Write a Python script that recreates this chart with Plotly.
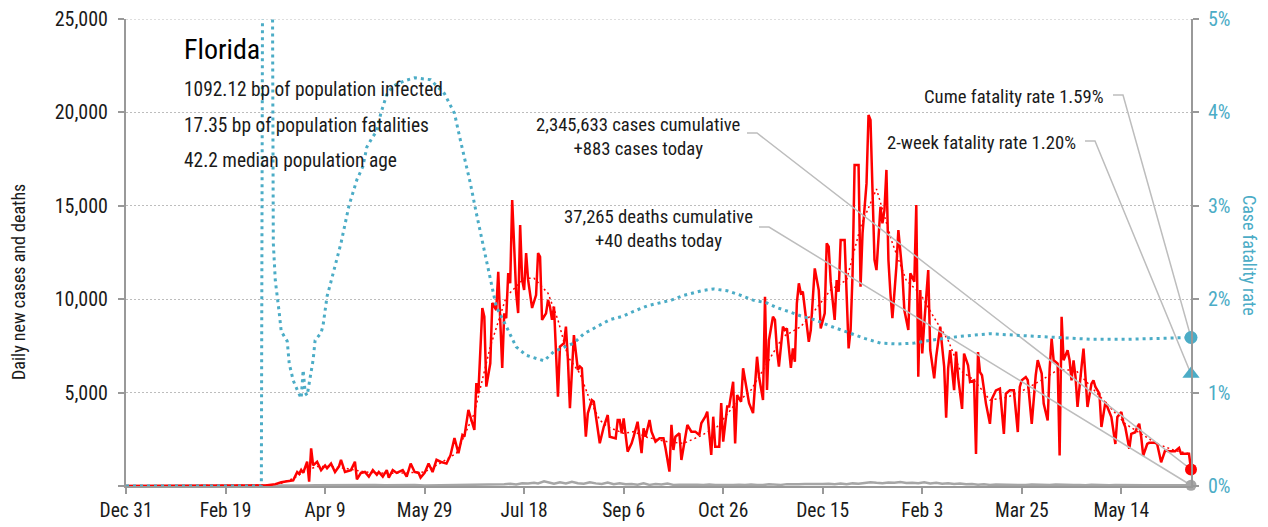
import plotly.graph_objects as go
import pandas as pd

# ---------------- data ----------------
START = pd.Timestamp("2019-12-31")

# (days after Dec 31 2019, daily new cases)
case_points = [
    (0, 0), (60, 0), (66, 5), (70, 30), (75, 100), (78, 200), (81, 250), (84, 300), (86, 750), (87, 650),
    (88, 860), (89, 700), (91, 1300), (92, 230), (93, 2020), (94, 1100), (96, 1300), (98, 850), (100, 1100),
    (101, 950), (103, 1200), (105, 750), (107, 1050), (108, 1400), (110, 750), (113, 850), (115, 1300),
    (116, 350), (118, 700), (120, 750), (122, 500), (124, 850), (126, 600), (127, 750), (129, 500), (131, 850),
    (132, 450), (134, 850), (136, 700), (139, 850), (141, 500), (143, 1200), (145, 750), (147, 700), (148, 450),
    (150, 700), (152, 1200), (154, 750), (156, 1400), (158, 1300), (161, 1200), (163, 1650), (164, 2100),
    (165, 2570), (167, 1750), (169, 2730), (170, 2640), (172, 4070), (175, 3000), (176, 5510), (177, 4960),
    (179, 9530), (180, 9060), (181, 5320), (183, 6570), (184, 9800), (186, 9420), (187, 11470), (189, 6320),
    (190, 9240), (191, 8980), (192, 11400), (193, 10850), (194, 15310), (196, 10320), (197, 9260), (198, 13970),
    (199, 11030), (200, 10490), (201, 12470), (202, 11030), (204, 9530), (206, 10220), (207, 12470), (208, 12270),
    (209, 8890), (211, 9240), (212, 9960), (213, 9600), (214, 8890), (215, 9600), (217, 4780), (218, 7460),
    (220, 7640), (221, 8530), (222, 6740), (223, 4170), (225, 8080), (227, 6210), (228, 6400), (229, 6300),
    (231, 2640), (232, 3890), (234, 4600), (235, 4510), (238, 2290), (240, 3170), (242, 3800), (243, 2640),
    (246, 2550), (247, 3530), (248, 3530), (249, 2820), (250, 3620), (252, 1840), (254, 2280), (255, 2640),
    (257, 3440), (259, 1760), (260, 3090), (261, 2640), (263, 3530), (264, 2910), (266, 2370), (268, 2550),
    (270, 2550), (271, 2030), (273, 770), (274, 3270), (275, 1930), (276, 2640), (278, 2820), (279, 1390),
    (282, 3270), (284, 2910), (286, 2910), (288, 2730), (289, 3360), (291, 3710), (292, 3980), (294, 1660),
    (295, 3710), (296, 2100), (298, 2100), (299, 4440), (300, 2370), (302, 4250), (303, 4250), (305, 5580),
    (306, 2280), (307, 4870), (308, 4690), (309, 4510), (310, 6300), (312, 4960), (313, 4430), (315, 3900),
    (316, 5320), (317, 6920), (318, 5850), (320, 4600), (321, 10130), (322, 5140), (323, 7820), (325, 9060),
    (326, 8890), (327, 7280), (328, 6390), (330, 8530), (331, 8350), (332, 8440), (334, 6320), (335, 7370),
    (336, 6650), (337, 9780), (338, 10850), (339, 10320), (340, 10400), (343, 7720), (344, 8350), (346, 11650),
    (348, 10490), (349, 8440), (351, 9240), (352, 12990), (353, 12810), (354, 10940), (356, 8890), (357, 11030),
    (358, 10400), (359, 13170), (361, 13170), (363, 7370), (364, 8350), (365, 11390), (366, 17180), (368, 17180),
    (369, 10670), (370, 13530), (372, 16200), (373, 19860), (374, 19590), (375, 16200), (376, 12100),
    (377, 11560), (378, 13170), (379, 14950), (380, 14060), (381, 14770), (382, 16920), (383, 12100),
    (384, 10320), (385, 8980), (386, 10320), (387, 11740), (388, 13700), (390, 11390), (391, 9420), (392, 8890),
    (393, 8350), (394, 11390), (396, 10940), (397, 15040), (398, 5850), (399, 10490), (400, 7100), (401, 8710),
    (403, 11560), (404, 7280), (406, 5760), (407, 6920), (408, 7820), (409, 8530), (410, 7450), (411, 6390),
    (412, 3650), (413, 6290), (414, 7270), (416, 5130), (417, 7200), (418, 5830), (420, 4130), (421, 7090),
    (423, 6460), (424, 5570), (426, 5660), (427, 1710), (428, 7170), (429, 6100), (430, 5930), (432, 4410),
    (434, 3330), (435, 4670), (437, 5120), (439, 5210), (441, 2790), (442, 4940), (444, 5120), (446, 5120),
    (448, 2890), (449, 5300), (450, 5660), (452, 5830), (453, 5660), (455, 3330), (457, 5930), (458, 6740),
    (460, 6020), (461, 4410), (463, 3510), (464, 6290), (465, 7890), (466, 6730), (468, 6550), (469, 1630),
    (470, 9060), (471, 6730), (473, 7270), (474, 6730), (475, 5660), (476, 6730), (477, 5830), (478, 4230),
    (480, 6370), (481, 7360), (482, 5830), (483, 4230), (485, 5480), (486, 5660), (487, 5300), (489, 4940),
    (490, 3160), (492, 4490), (493, 4230), (495, 3690), (497, 2250), (498, 3690), (500, 3960), (501, 3420),
    (502, 3150), (504, 1990), (505, 2790), (507, 2880), (508, 3150), (509, 3330), (510, 2610), (511, 1630),
    (513, 2250), (514, 2310), (517, 2310), (518, 2250), (520, 1270), (522, 1900), (524, 1860), (527, 1860),
    (529, 2040), (530, 1720), (534, 1720), (535, 883),
]

# 7-day average of new cases
avg_points = [
    (0, 0), (65, 0), (72, 40), (78, 150), (84, 400), (90, 800), (96, 1050), (102, 1050), (110, 950), (120, 750),
    (130, 680), (140, 700), (150, 750), (158, 1230), (166, 1760), (175, 3900), (183, 7460), (191, 10130),
    (200, 11120), (205, 11120), (212, 10320), (217, 8890), (222, 6920), (228, 6030), (233, 4600), (238, 3530),
    (242, 3170), (250, 2820), (255, 2910), (262, 2600), (272, 2370), (280, 2280), (289, 2700), (297, 3170),
    (305, 4250), (314, 5140), (322, 6570), (330, 7990), (339, 8530), (346, 9400), (354, 10500), (362, 11030),
    (369, 13880), (377, 15900), (385, 13000), (392, 11000), (399, 10300), (406, 9000), (413, 7800), (419, 6200),
    (426, 5670), (434, 4600), (443, 4760), (451, 5140), (460, 5670), (468, 6210), (477, 6210), (485, 5300),
    (493, 4410), (502, 3330), (510, 2790), (518, 2250), (527, 1900), (535, 1710),
]

# daily new deaths
death_points = [
    (0, 0), (66, 0), (70, 2), (75, 5), (80, 10), (85, 20), (90, 30), (95, 45), (100, 50), (105, 60), (110, 40),
    (115, 55), (120, 45), (125, 50), (130, 35), (135, 45), (140, 40), (145, 50), (150, 30), (155, 35), (160, 40),
    (165, 30), (170, 45), (175, 40), (180, 60), (185, 45), (190, 90), (193, 120), (196, 80), (199, 150),
    (202, 130), (205, 170), (207, 140), (210, 250), (213, 180), (215, 120), (218, 200), (221, 140), (224, 230),
    (227, 150), (230, 120), (233, 200), (236, 140), (239, 110), (242, 180), (245, 100), (248, 150), (251, 90),
    (254, 110), (257, 70), (260, 140), (263, 60), (266, 110), (269, 80), (272, 130), (275, 60), (278, 70),
    (281, 80), (284, 50), (287, 70), (290, 60), (293, 80), (296, 50), (299, 70), (302, 60), (305, 50), (308, 70),
    (311, 50), (314, 80), (317, 60), (320, 50), (323, 90), (326, 70), (329, 60), (332, 100), (335, 80), (338, 90),
    (341, 110), (344, 100), (347, 90), (350, 110), (353, 120), (356, 100), (359, 130), (362, 90), (365, 140),
    (368, 120), (371, 160), (374, 200), (377, 170), (380, 150), (383, 190), (386, 170), (389, 210), (392, 160),
    (395, 180), (398, 150), (401, 200), (404, 140), (407, 170), (410, 120), (413, 150), (416, 110), (419, 130),
    (422, 90), (425, 110), (428, 70), (431, 90), (434, 60), (437, 80), (440, 70), (443, 90), (446, 60), (449, 70),
    (452, 50), (455, 80), (458, 60), (461, 70), (464, 50), (467, 80), (470, 60), (473, 70), (476, 50), (479, 60),
    (482, 40), (485, 70), (488, 50), (491, 60), (494, 40), (497, 55), (500, 45), (503, 60), (506, 40), (509, 50),
    (512, 35), (515, 45), (518, 35), (521, 40), (524, 30), (527, 40), (530, 35), (533, 40), (535, 40),
]

# cumulative case fatality rate, percent
cfr_points = [
    (0, 0), (68, 0), (69, 9), (73, 9), (74, 2.6), (75, 2.2), (77, 1.85), (78, 1.65), (79, 1.62), (81, 1.55),
    (82, 1.31), (84, 1.13), (86, 1.03), (87, 0.99), (88, 0.94), (89, 1.24), (90, 1.0), (91, 0.97), (92, 1.1),
    (93, 1.26), (94, 1.35), (95, 1.56), (98, 1.64), (99, 1.72), (100, 1.87), (101, 2.03), (103, 2.19),
    (108, 2.6), (112, 3.0), (116, 3.28), (119, 3.42), (121, 3.63), (124, 3.74), (126, 3.8), (128, 3.99),
    (131, 4.19), (134, 4.28), (140, 4.34), (145, 4.37), (153, 4.35), (160, 4.2), (165, 3.99), (168, 3.7),
    (173, 3.24), (176, 2.92), (180, 2.53), (183, 2.2), (186, 1.92), (191, 1.71), (196, 1.49), (201, 1.4),
    (210, 1.34), (215, 1.44), (225, 1.53), (230, 1.63), (237, 1.71), (243, 1.78), (250, 1.82), (255, 1.87),
    (262, 1.93), (274, 1.99), (280, 2.04), (289, 2.09), (295, 2.11), (302, 2.09), (309, 2.04), (315, 1.99),
    (322, 1.96), (327, 1.91), (334, 1.86), (339, 1.82), (346, 1.78), (354, 1.71), (362, 1.65), (371, 1.58),
    (379, 1.53), (388, 1.52), (396, 1.53), (404, 1.56), (418, 1.6), (434, 1.63), (451, 1.61), (468, 1.59),
    (485, 1.57), (502, 1.57), (518, 1.58), (535, 1.59),
]

state_name = "Florida"
stat_lines = ["1092.12 bp of population infected",
              "17.35 bp of population fatalities",
              "42.2 median population age"]
cases_cumulative = 2345633
cases_today = 883
deaths_cumulative = 37265
deaths_today = 40
cume_cfr = 1.59
two_week_cfr = 1.20

x_tick_labels = ["Dec 31", "Feb 19", "Apr 9", "May 29", "Jul 18", "Sep 6",
                 "Oct 26", "Dec 15", "Feb 3", "Mar 25", "May 14"]
x_tick_step_days = 50
y_left_ticks = [0, 5000, 10000, 15000, 20000, 25000]
y_left_labels = ["", "5,000", "10,000", "15,000", "20,000", "25,000"]
y_right_ticks = [0, 1, 2, 3, 4, 5]
y_right_labels = ["0%", "1%", "2%", "3%", "4%", "5%"]
y_left_title = "Daily new cases and deaths"
y_right_title = "Case fatality rate"

# ---------------- styling ----------------
RED = "#ff0000"
BLUE = "#4bacc6"
GREY = "#a6a6a6"
AXIS = "#999999"
LEADER = "#bdbdbd"
GRID = "#bdbdbd"
TXT = "#1a1a1a"
FONT = "Roboto Condensed, Archivo Narrow, PT Sans Narrow, sans-serif"

W, H = 1268, 527
PAGE_OFF = 8                      # page body margin of the browser
PX0, PY0, PX1, PY1 = 126, 19, 1191, 486   # plot area in picture pixels
PW, PH = PX1 - PX0, PY1 - PY0
ML, MT = PX0 - PAGE_OFF, PY0 - PAGE_OFF
MR, MB = W - ML - PW, H - MT - PH
LAST_DAY = case_points[-1][0]
X_END = START + pd.Timedelta(days=LAST_DAY)


def to_dates(days):
    return [START + pd.Timedelta(days=d) for d in days]


def split(points):
    return [p[0] for p in points], [p[1] for p in points]


def px_to_date(px):
    return START + pd.Timedelta(days=(px - PX0) / PW * LAST_DAY)


def py_to_left(py):
    return (PY1 - py) / PH * 25000


def py_to_right(py):
    return (PY1 - py) / PH * 5


def xp(px):
    return (px - PX0) / PW


def yp(py):
    return (PY1 - py) / PH


fig = go.Figure()

cd, cv = split(case_points)
ad, av = split(avg_points)
dd, dv = split(death_points)
fd, fv = split(cfr_points)

fig.add_trace(go.Scatter(x=to_dates(dd), y=dv, mode="lines",
                         line=dict(color=GREY, width=2.5), hoverinfo="skip"))
fig.add_trace(go.Scatter(x=to_dates(fd), y=fv, yaxis="y2", mode="lines",
                         line=dict(color=BLUE, width=3, dash="3px,4px"), hoverinfo="skip"))
fig.add_trace(go.Scatter(x=to_dates(cd), y=cv, mode="lines",
                         line=dict(color=RED, width=2.5), hoverinfo="skip"))
fig.add_trace(go.Scatter(x=to_dates(ad), y=av, mode="lines",
                         line=dict(color=RED, width=1.5, dash="2px,3px"), hoverinfo="skip"))


# leader lines from the annotation texts to the end markers
def leader(px0, py0, yval_end, axis):
    conv = py_to_left if axis == "y" else py_to_right
    xs = [px_to_date(px0), px_to_date(px0 + 10), X_END]
    ys = [conv(py0), conv(py0), yval_end]
    fig.add_trace(go.Scatter(x=xs, y=ys, yaxis=axis, mode="lines",
                             line=dict(color=LEADER, width=1.5), hoverinfo="skip",
                             cliponaxis=False))


leader(747, 133, cases_today, "y")
leader(759, 227, deaths_today, "y")
leader(1113, 95, cume_cfr, "y2")
leader(1085, 141, two_week_cfr, "y2")

# end markers
fig.add_trace(go.Scatter(x=[X_END], y=[cases_today], mode="markers",
                         marker=dict(color=RED, size=12), cliponaxis=False, hoverinfo="skip"))
fig.add_trace(go.Scatter(x=[X_END], y=[deaths_today], mode="markers",
                         marker=dict(color=GREY, size=11), cliponaxis=False, hoverinfo="skip"))
fig.add_trace(go.Scatter(x=[X_END], y=[cume_cfr], yaxis="y2", mode="markers",
                         marker=dict(color=BLUE, size=13), cliponaxis=False, hoverinfo="skip"))
fig.add_trace(go.Scatter(x=[X_END], y=[two_week_cfr], yaxis="y2", mode="markers",
                         marker=dict(color=BLUE, size=15, symbol="triangle-up"),
                         cliponaxis=False, hoverinfo="skip"))

tick_dates = [START + pd.Timedelta(days=i * x_tick_step_days) for i in range(len(x_tick_labels))]

annotations = [
    dict(x=xp(182), y=yp(50), text=state_name, font=dict(size=28, color="#000")),
]
for i, s in enumerate(stat_lines):
    annotations.append(dict(x=xp(182), y=yp(89 + 36 * i), text=s, font=dict(size=19.4, color=TXT)))
for a in annotations:
    a.update(xref="paper", yref="paper", xanchor="left", yanchor="middle", showarrow=False)

annotations += [
    dict(x=xp(638), y=yp(137), xref="paper", yref="paper", xanchor="center", yanchor="middle",
         showarrow=False, align="center",
         text=f"{cases_cumulative:,} cases cumulative<br>+{cases_today:,} cases today",
         font=dict(size=18.7, color=TXT)),
    dict(x=xp(658), y=yp(229), xref="paper", yref="paper", xanchor="center", yanchor="middle",
         showarrow=False, align="center",
         text=f"{deaths_cumulative:,} deaths cumulative<br>+{deaths_today:,} deaths today",
         font=dict(size=18.7, color=TXT)),
    dict(x=xp(1106), y=yp(97), xref="paper", yref="paper", xanchor="right", yanchor="middle",
         showarrow=False, text=f"Cume fatality rate {cume_cfr:.2f}%", font=dict(size=18.7, color=TXT)),
    dict(x=xp(1078), y=yp(143), xref="paper", yref="paper", xanchor="right", yanchor="middle",
         showarrow=False, text=f"2-week fatality rate {two_week_cfr:.2f}%", font=dict(size=18.7, color=TXT)),
    # axis titles
    dict(x=xp(18), y=yp(282), xref="paper", yref="paper", xanchor="center", yanchor="middle",
         showarrow=False, textangle=-90, text=y_left_title, font=dict(size=18, color=TXT)),
    dict(x=xp(1250), y=yp(255), xref="paper", yref="paper", xanchor="center", yanchor="middle",
         showarrow=False, textangle=90, text=y_right_title, font=dict(size=18, color=BLUE)),
]

# dotted gridline along the top edge (Plotly skips the grid at the range end)
shapes = [dict(type="line", xref="paper", yref="y", x0=0, x1=1,
               y0=y_left_ticks[-1], y1=y_left_ticks[-1],
               line=dict(color=GRID, width=1, dash="2px,2px"), layer="below")]

fig.update_layout(
    width=W, height=H,
    margin=dict(l=ML, r=MR, t=MT, b=MB, pad=0, autoexpand=False),
    paper_bgcolor="white", plot_bgcolor="white",
    showlegend=False,
    font=dict(family=FONT, size=18, color=TXT),
    xaxis=dict(type="date", range=[START, X_END], tickvals=tick_dates, ticktext=x_tick_labels,
               showgrid=False, zeroline=False, showline=True, linecolor=AXIS, linewidth=2,
               ticks="outside", ticklen=6, tickcolor=AXIS, tickwidth=1.5, automargin=False,
               ticklabeloverflow="allow", tickfont=dict(size=19.5, color=TXT)),
    yaxis=dict(range=[0, 25000], tickvals=y_left_ticks, ticktext=y_left_labels,
               showgrid=True, gridcolor=GRID, griddash="2px,2px", gridwidth=1,
               zeroline=False, showline=True, linecolor=AXIS, linewidth=2,
               ticks="outside", ticklen=6, tickcolor=AXIS, tickwidth=1.5, automargin=False,
               ticklabeloverflow="allow", ticklabelstandoff=6, tickfont=dict(size=20, color=TXT)),
    yaxis2=dict(range=[0, 5], tickvals=y_right_ticks, ticktext=y_right_labels,
                overlaying="y", side="right", showgrid=False, zeroline=False,
                showline=True, linecolor=AXIS, linewidth=2, automargin=False,
                ticks="outside", ticklen=6, tickcolor=AXIS, tickwidth=1.5,
                ticklabeloverflow="allow", ticklabelstandoff=5, tickfont=dict(size=20, color=BLUE)),
    annotations=annotations,
    shapes=shapes,
)

fig.write_html("out.html")
